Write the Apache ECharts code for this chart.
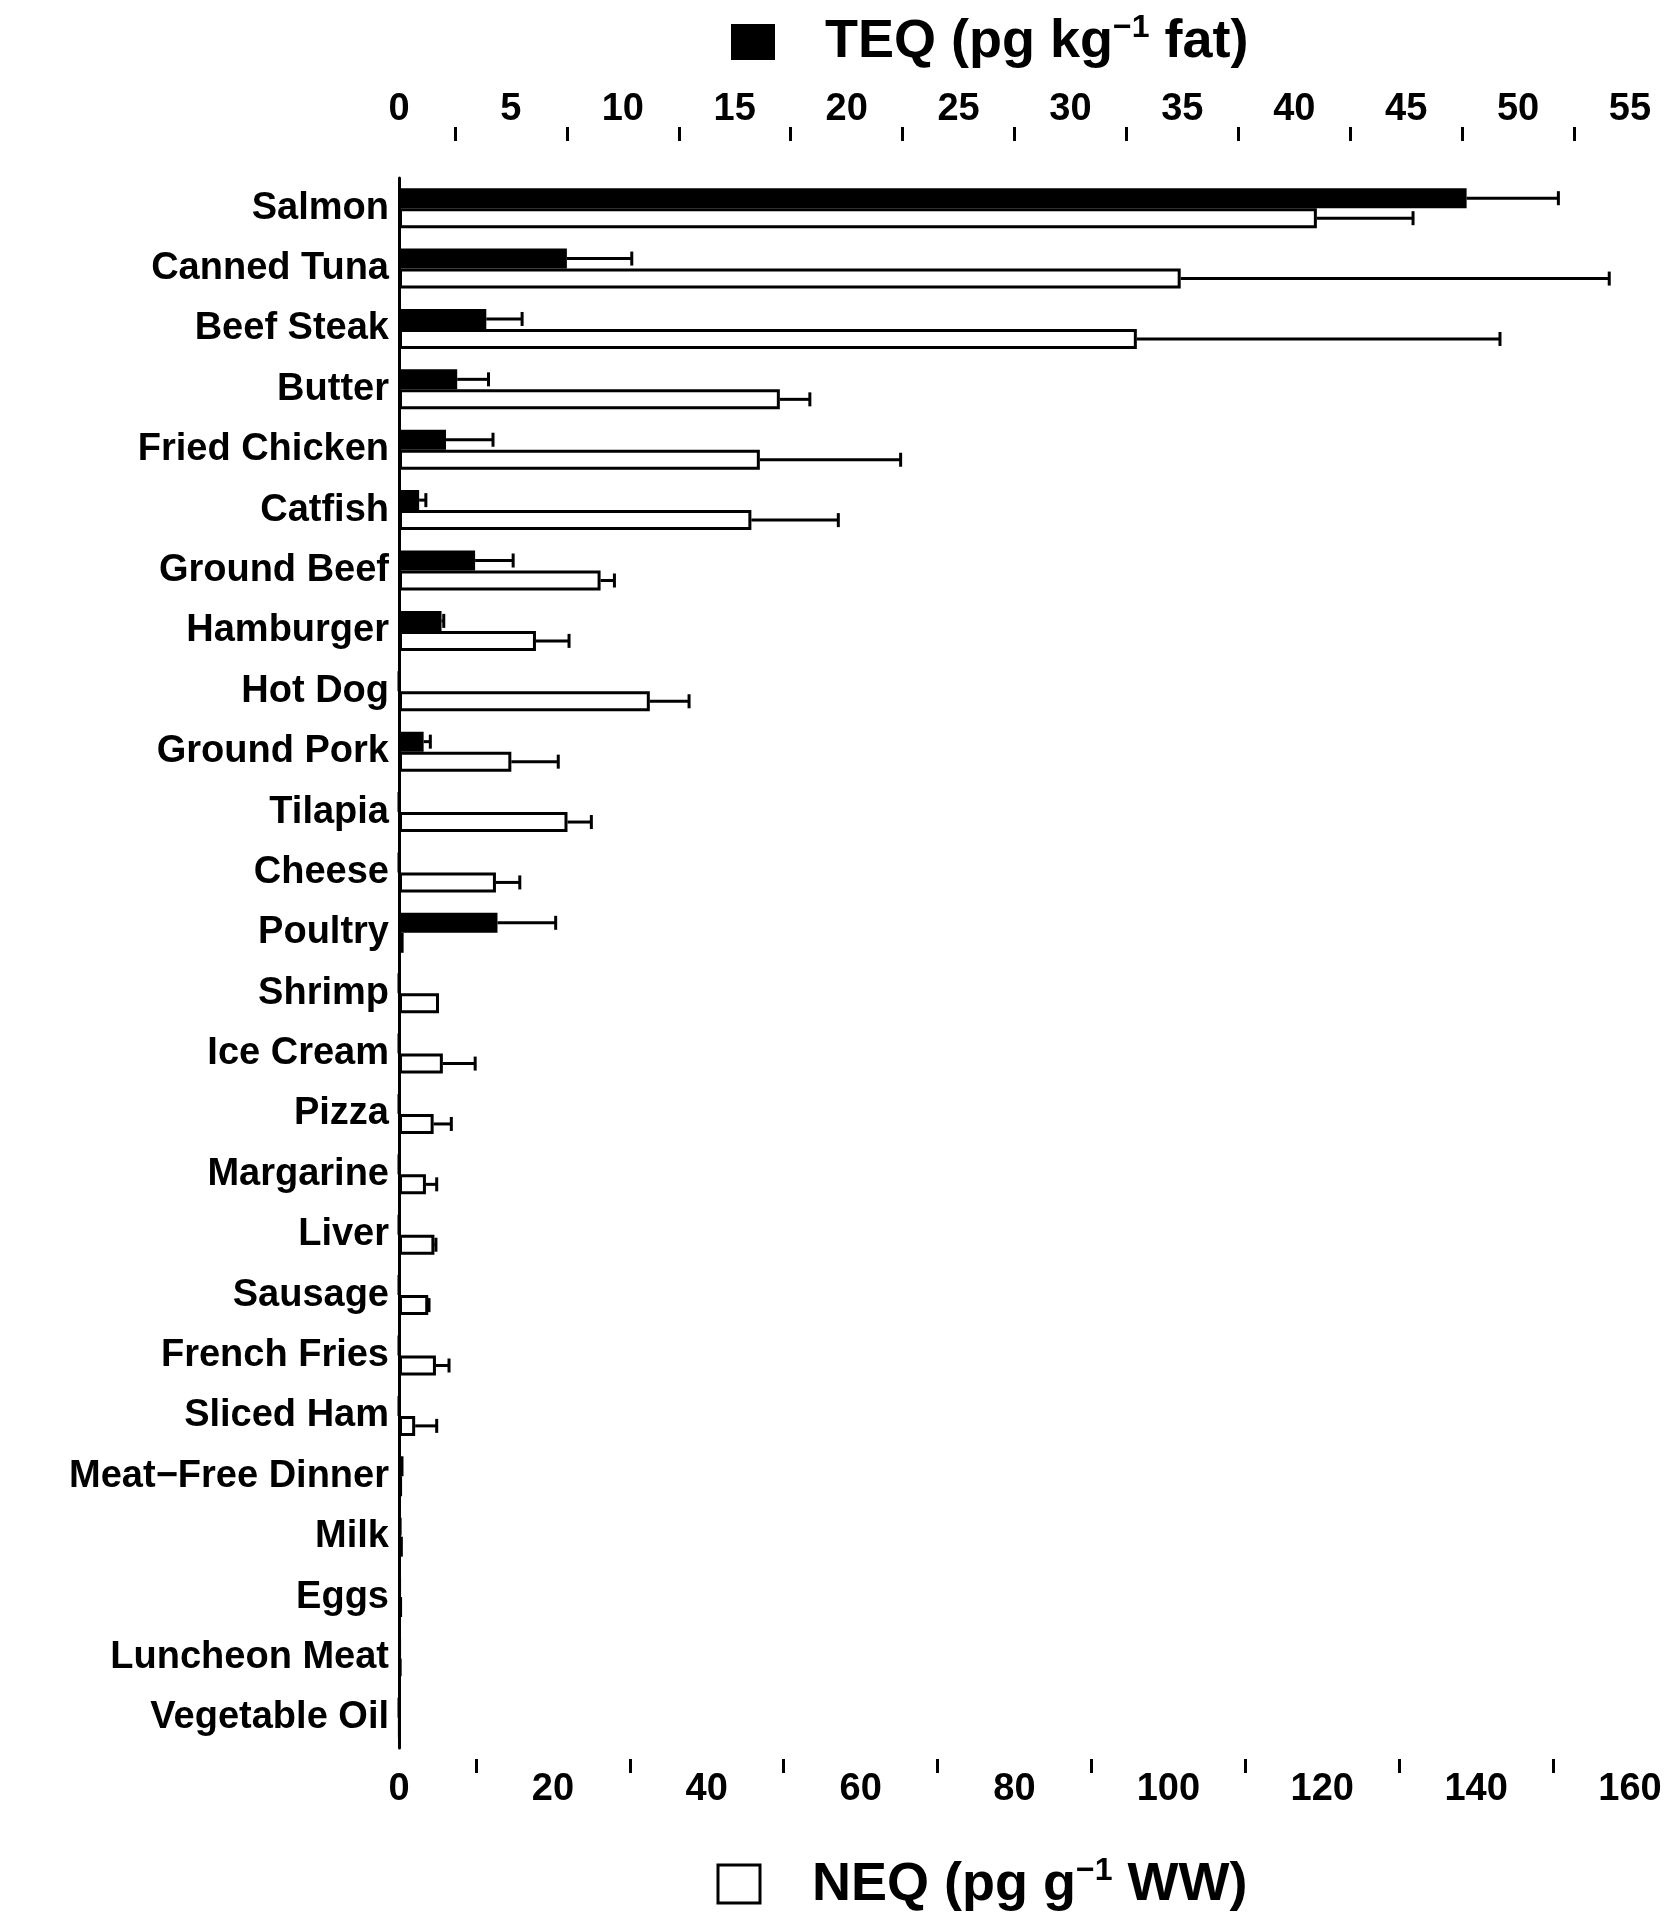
<!DOCTYPE html>
<html><head><meta charset="utf-8">
<script src="https://cdn.jsdelivr.net/npm/echarts@6/dist/echarts.min.js"></script>
<style>body{margin:0;background:#fff}#c{width:1670px;height:1920px}</style></head>
<body><div id="c"></div>
<script>
const categories=["Salmon","Canned Tuna","Beef Steak","Butter","Fried Chicken","Catfish","Ground Beef","Hamburger","Hot Dog","Ground Pork","Tilapia","Cheese","Poultry","Shrimp","Ice Cream","Pizza","Margarine","Liver","Sausage","French Fries","Sliced Ham","Meat\u2212Free Dinner","Milk","Eggs","Luncheon Meat","Vegetable Oil"];
const teq=[47.7,7.5,3.9,2.6,2.1,0.9,3.4,1.9,0,1.1,0,0,4.4,0,0,0,0,0,0,0,0,0.2,0.1,0.05,0.05,0];
const teqErr=[51.8,10.4,5.5,4.0,4.2,1.2,5.1,2.0,null,1.4,null,null,7.0,null,null,null,null,null,null,null,null,null,null,null,null,null];
const neq=[119.3,101.6,95.9,49.5,46.9,45.8,26.2,17.8,32.6,14.6,21.9,12.6,0.6,5.2,5.7,4.5,3.5,4.6,3.8,4.8,2.1,0.4,0.5,0.4,0.3,0.1];
const neqErr=[131.8,157.3,143.1,53.4,65.2,57.1,28.0,22.1,37.7,20.7,25.0,15.7,null,null,9.9,6.8,4.9,4.8,3.9,6.5,4.9,null,null,null,null,null];
const F='"Liberation Sans", Arial, sans-serif';
const BW=20;
function errSeries(vals,errs,axisIdx,dir){
  return {type:'custom',xAxisIndex:axisIdx,yAxisIndex:0,z:5,
    data:vals.map((v,i)=>[v,i,errs[i]]).filter(d=>d[2]!=null),
    renderItem:function(p,api){
      const i=api.value(1);
      const a=api.coord([api.value(0),i]);const b=api.coord([api.value(2),i]);
      const y=a[1]+dir*BW/2;
      return {type:'group',children:[
        {type:'line',shape:{x1:a[0],y1:y,x2:b[0],y2:y},style:{stroke:'#000',lineWidth:3}},
        {type:'line',shape:{x1:b[0],y1:y-7,x2:b[0],y2:y+7},style:{stroke:'#000',lineWidth:3}}]};
    }};
}
const axisCommon={axisLine:{lineStyle:{color:'#000',width:3}},axisTick:{length:14,lineStyle:{color:'#000',width:3}},
  minorTick:{show:true,splitNumber:2,length:14,lineStyle:{color:'#000',width:3}},splitLine:{show:false},
  axisLabel:{color:'#000',fontFamily:F,fontWeight:'bold',fontSize:38,margin:12}};
const chart=echarts.init(document.getElementById('c'));
chart.setOption({
  animation:false,
  grid:{left:399,right:40,top:178,bottom:172},
  xAxis:[
    Object.assign({type:'value',position:'top',min:0,max:55,interval:5,offset:37},axisCommon),
    Object.assign({type:'value',position:'bottom',min:0,max:160,interval:20,offset:11},axisCommon)],
  yAxis:[{type:'category',inverse:true,data:categories,
    axisLine:{lineStyle:{color:'#000',width:3}},axisTick:{show:false},
    axisLabel:{color:'#000',fontFamily:F,fontWeight:'bold',fontSize:38,margin:10}}],
  series:[
    {type:'bar',xAxisIndex:0,data:teq,barWidth:BW,barGap:'0%',itemStyle:{color:'#000',borderColor:'#000',borderWidth:3}},
    {type:'bar',xAxisIndex:1,data:neq,barWidth:BW,barGap:'0%',itemStyle:{color:'#fff',borderColor:'#000',borderWidth:3}},
    errSeries(teq,teqErr,0,-1),
    errSeries(neq,neqErr,1,1)
  ],
  graphic:[
    {type:'rect',shape:{x:731,y:24,width:44,height:36},style:{fill:'#000'}},
    {type:'text',left:825,top:12,style:{rich:{a:{fontFamily:F,fontWeight:'bold',fontSize:54,fill:'#000'},s:{fontFamily:F,fontWeight:'bold',fontSize:32,fill:'#000',verticalAlign:'top',padding:[0,0,28,0]}},text:'{a|TEQ (pg kg}{s|\u22121}{a| fat)}'}},
    {type:'rect',shape:{x:718,y:1865,width:42,height:38},style:{fill:'#fff',stroke:'#000',lineWidth:3}},
    {type:'text',left:812,top:1855,style:{rich:{a:{fontFamily:F,fontWeight:'bold',fontSize:54,fill:'#000'},s:{fontFamily:F,fontWeight:'bold',fontSize:32,fill:'#000',padding:[0,0,28,0]}},text:'{a|NEQ (pg g}{s|\u22121}{a| WW)}'}}
  ]
});
</script></body></html>
